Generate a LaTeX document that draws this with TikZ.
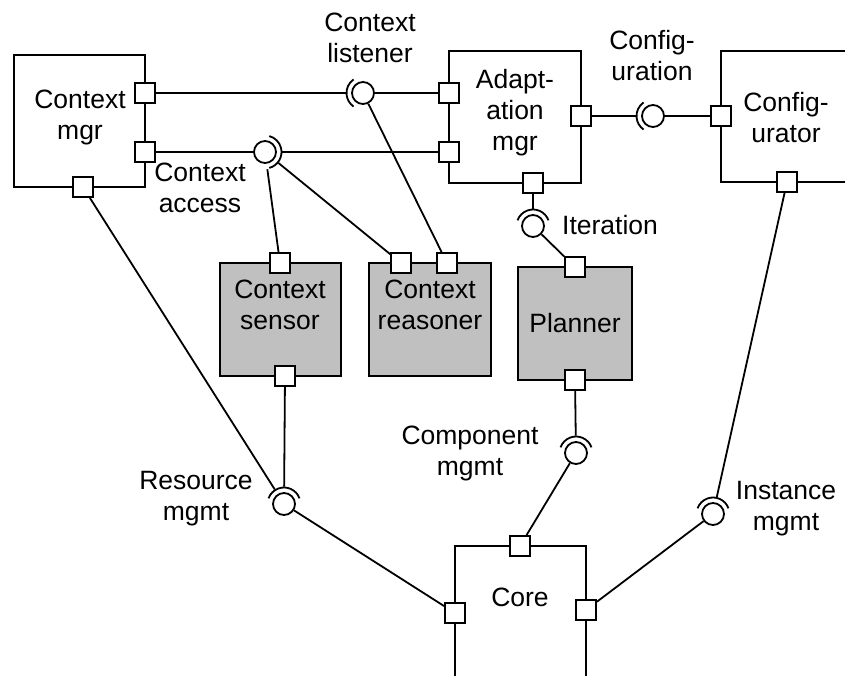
\documentclass[tikz,border=0pt]{standalone}
\usepackage{fontspec}
\setmainfont{Liberation Sans}
\definecolor{unitgray}{RGB}{192,192,192}
\begin{document}
\begin{tikzpicture}[x=1pt,y=-1pt,line width=1.8pt,
  lbl/.style={font=\fontsize{26.5}{31}\selectfont,align=center,inner sep=0pt},
  portbox/.style={draw,fill=white,minimum size=20pt,inner sep=0pt},
  ballface/.style={draw,fill=white,circle,minimum size=22pt,inner sep=0pt},
  sockring/.style={circle,minimum size=33pt,inner sep=0pt},
  unitbox/.style={draw,rectangle,inner sep=0pt},
  greybox/.style={unitbox,fill=unitgray},
]
\useasboundingbox (0,0) rectangle (845,676);

% component bodies
\node[unitbox,minimum width=131pt,minimum height=132pt] (cm) at (79.5,121) {};
\node[unitbox,minimum width=132pt,minimum height=132pt] (ad) at (515,117) {};
\node[greybox,minimum width=121pt,minimum height=113pt] (cs) at (280.5,319.5) {};
\node[greybox,minimum width=122pt,minimum height=113pt] (cr) at (430,319.5) {};
\node[greybox,minimum width=114pt,minimum height=113pt] (pl) at (575,323.5) {};
\draw (850,51) -- (721,51) -- (721,182) -- (850,182);
\draw (455,680) -- (455,546) -- (586,546) -- (586,680);

% body labels
\node[lbl] (cmT) at (80,117) {Context\\mgr};
\node[lbl] (adT) at (515,113) {Adapt-\\ation\\mgr};
\node[lbl] (cfT) at (786,118) {Config-\\urator};
\node[lbl] (csT) at (280,305) {Context\\sensor};
\node[lbl] (crT) at (430,305) {Context\\reasoner};
\node[lbl] (plT) at (575,323) {Planner};
\node[lbl] (coT) at (520,597) {Core};

% interface labels
\node[lbl] (lisT) at (370,38) {Context\\listener};
\node[lbl] (accT) at (200,188) {Context\\access};
\node[lbl] (cfgT) at (652,56) {Config-\\uration};
\node[lbl] (itrT) at (610,225) {Iteration};
\node[lbl] (resT) at (196,499) {Resource\\mgmt};
\node[lbl] (cmpT) at (470,453) {Component\\mgmt};
\node[lbl] (insT) at (786,509) {Instance\\mgmt};

% ports
\node[portbox] (cmA) at (145,93) {};
\node[portbox] (cmB) at (145,152) {};
\node[portbox] (cmC) at (83,187) {};
\node[portbox] (adA) at (449,93) {};
\node[portbox] (adB) at (449,152) {};
\node[portbox] (adC) at (581,116) {};
\node[portbox] (adD) at (533,183) {};
\node[portbox] (cfA) at (721,116) {};
\node[portbox] (cfB) at (787,182) {};
\node[portbox] (csA) at (280,263) {};
\node[portbox] (csB) at (285,376) {};
\node[portbox] (crA) at (401,263) {};
\node[portbox] (crB) at (447,263) {};
\node[portbox] (plA) at (575,267) {};
\node[portbox] (plB) at (575,380) {};
\node[portbox] (coA) at (520,546) {};
\node[portbox] (coB) at (455,613) {};
\node[portbox] (coC) at (586,610) {};

% provided interfaces (balls) and their socket rings
\foreach \n/\px/\py in {lis/363/93, acc/265/152, cfg/653/116, itr/533/226,
                        res/284/504, cmp/576/453, ins/713/514} {
  \node[ballface] (\n) at (\px,\py) {};
  \node[sockring] (\n S) at (\px,\py) {};
}

% required interfaces (sockets)
\foreach \n/\a/\b in {lis/125/235, cfg/125/235, acc/-75/75,
                      itr/20/160, res/20/160, cmp/20/160, ins/20/160} {
  \draw ([shift={(\a:16.5pt)}]\n.center) arc[start angle=\a,end angle=\b,radius=16.5pt];
}

% connectors
\draw (cmA) -- (lisS);
\draw (lis) -- (adA);
\draw (lis) -- (crB);
\draw (cmB) -- (acc);
\draw (accS) -- (adB);
\draw (accS) -- (csA);
\draw (accS) -- (crA);
\draw (adC) -- (cfgS);
\draw (cfg) -- (cfA);
\draw (adD) -- (itrS);
\draw (itr) -- (plA);
\draw (cmC) -- (resS);
\draw (csB) -- (resS);
\draw (res) -- (coB);
\draw (plB) -- (cmpS);
\draw (cmp) -- (coA);
\draw (cfB) -- (insS);
\draw (ins) -- (coC);
\end{tikzpicture}
\end{document}
